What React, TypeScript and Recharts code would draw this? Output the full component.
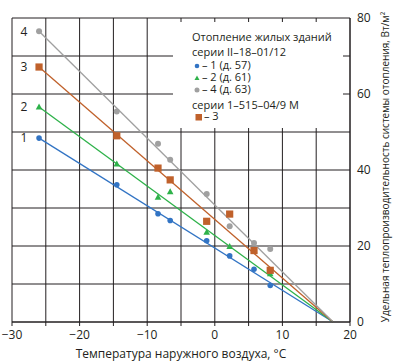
import React from 'react';
import { ComposedChart, Line, Scatter, XAxis, YAxis, CartesianGrid, Label } from 'recharts';

// outside air temperature of the measurements, °C
const temps = [-26, -14.5, -8.4, -6.6, -1.2, 2.2, 5.8, 8.2];

// specific heat output, W/m2
const house1 = [48.4, 36.1, 28.5, 26.7, 21.4, 17.4, 13.9, 9.6];
const house2 = [56.6, 41.6, 32.8, 34.3, 23.6, 19.9, 18.8, 12.7];
const house4 = [76.5, 55.4, 46.9, 42.7, 33.7, 25.2, 20.8, 19.2];
const house3 = [67.1, 49.0, 40.5, 37.4, 26.5, 28.4, 18.8, 13.6];

// design lines: from the coldest point down to zero at the balance temperature
const lineFrom = -26;
const lineTo = 17.5;

const xTicks = [-30, -25, -20, -15, -10, -5, 0, 5, 10, 15, 20];
const yTicks = [0, 10, 20, 30, 40, 50, 60, 70, 80];

const BLUE = '#3274c4';
const GREEN = '#2eb24a';
const GRAY = '#a0a0a0';
const ORANGE = '#c0612b';
const INK = '#231f20';
const FONT = '"Open Sans", sans-serif';

const toPoints = (vals: number[]) => temps.map((t, i) => ({ t, v: vals[i] }));
const fitLine = (vals: number[]) => [
  { t: lineFrom, v: vals[0] },
  { t: lineTo, v: 0 },
];

const fmt = (v: number) => (v < 0 ? '\u2212' + Math.abs(v) : String(v));

const XTick = ({ x, y, payload }: any) =>
  payload.value % 10 !== 0 ? (
    <g />
  ) : (
    <text x={x} y={y} dy="0.71em" textAnchor="middle" fontSize={12} fill={INK} fontFamily={FONT}>
      {fmt(payload.value)}
    </text>
  );

const YTick = ({ x, y, payload }: any) =>
  payload.value % 20 !== 0 ? (
    <g />
  ) : (
    <text x={x} y={y} dy="0.355em" textAnchor="start" fontSize={12} fill={INK} fontFamily={FONT}>
      {payload.value}
    </text>
  );

const lineLabel = (name: string) => (props: any) =>
  props.index !== 0 ? (
    <g />
  ) : (
    <text x={props.x - 15} y={props.y} dy="0.355em" textAnchor="middle" fontSize={12} fill={INK} fontFamily={FONT}>
      {name}
    </text>
  );

const dotShape = (color: string, r: number) => (props: any) =>
  <circle cx={props.cx} cy={props.cy} r={r} fill={color} />;

const triShape = (color: string) => (props: any) => {
  const { cx, cy } = props;
  return <polygon points={`${cx},${cy - 3.5} ${cx + 3.3},${cy + 2.5} ${cx - 3.3},${cy + 2.5}`} fill={color} />;
};

const squareShape = (color: string) => (props: any) =>
  <rect x={props.cx - 3.6} y={props.cy - 3.6} width={7.2} height={7.2} fill={color} />;

const legendRow: React.CSSProperties = { position: 'absolute', whiteSpace: 'nowrap', lineHeight: '12px', height: 12 };

const Marker = ({ children }: { children: React.ReactNode }) => (
  <svg width={8} height={8} style={{ display: 'inline-block', verticalAlign: 'middle', marginRight: 1 }}>
    {children}
  </svg>
);

export default function App() {
  return (
    <div style={{ position: 'absolute', left: 0, top: 0, width: 396, height: 363, background: '#fff' }}>
      <ComposedChart width={396} height={363} margin={{ top: 18, right: 0, left: 12, bottom: 0 }}>
        <CartesianGrid stroke={INK} strokeWidth={1} />
        <XAxis
          type="number"
          dataKey="t"
          domain={[-30, 20]}
          ticks={xTicks}
          interval={0}
          height={41}
          tick={<XTick />}
          tickSize={4}
          tickMargin={4}
          tickLine={{ stroke: INK }}
          axisLine={{ stroke: INK }}
        >
          <Label
            value="Температура наружного воздуха, °С"
            position="insideBottom"
            offset={5}
            fontSize={12}
            fill={INK}
            fontFamily={FONT}
          />
        </XAxis>
        <YAxis
          type="number"
          orientation="right"
          domain={[0, 80]}
          ticks={yTicks}
          interval={0}
          width={46}
          tick={<YTick />}
          tickSize={0}
          tickMargin={7}
          tickLine={false}
          axisLine={{ stroke: INK }}
        >
          <Label
            content={() => (
              <text
                transform="translate(385,167) rotate(-90)"
                textAnchor="middle"
                dominantBaseline="central"
                fontSize={10}
                fill={INK}
                fontFamily={FONT}
              >
                Удельная теплопроизводительность системы отопления, Вт/м²
              </text>
            )}
          />
        </YAxis>

        <Line data={fitLine(house1)} dataKey="v" stroke={BLUE} strokeWidth={1.3} dot={false} isAnimationActive={false} label={lineLabel('1')} />
        <Line data={fitLine(house2)} dataKey="v" stroke={GREEN} strokeWidth={1.3} dot={false} isAnimationActive={false} label={lineLabel('2')} />
        <Line data={fitLine(house3)} dataKey="v" stroke={ORANGE} strokeWidth={1.3} dot={false} isAnimationActive={false} label={lineLabel('3')} />
        <Line data={fitLine(house4)} dataKey="v" stroke={GRAY} strokeWidth={1.3} dot={false} isAnimationActive={false} label={lineLabel('4')} />

        <Scatter data={toPoints(house1)} dataKey="v" shape={dotShape(BLUE, 2.8)} isAnimationActive={false} />
        <Scatter data={toPoints(house2)} dataKey="v" shape={triShape(GREEN)} isAnimationActive={false} />
        <Scatter data={toPoints(house4)} dataKey="v" shape={dotShape(GRAY, 3)} isAnimationActive={false} />
        <Scatter data={toPoints(house3)} dataKey="v" shape={squareShape(ORANGE)} isAnimationActive={false} />
      </ComposedChart>

      <div
        style={{
          position: 'absolute',
          left: 173,
          top: 22,
          width: 170,
          height: 106,
          background: '#fff',
          fontFamily: FONT,
          fontSize: 11,
          color: INK,
        }}
      >
        <div style={{ ...legendRow, left: 19, top: 9 }}>Отопление жилых зданий</div>
        <div style={{ ...legendRow, left: 19, top: 24 }}>серии II–18–01/12</div>
        <div style={{ ...legendRow, left: 20, top: 37 }}>
          <Marker><circle cx={4} cy={4} r={2.3} fill={BLUE} /></Marker>– 1 (д. 57)
        </div>
        <div style={{ ...legendRow, left: 20, top: 49 }}>
          <Marker><polygon points="4,1.5 6.5,6 1.5,6" fill={GREEN} /></Marker>– 2 (д. 61)
        </div>
        <div style={{ ...legendRow, left: 20, top: 61 }}>
          <Marker><circle cx={4} cy={4} r={2.5} fill={GRAY} /></Marker>– 4 (д. 63)
        </div>
        <div style={{ ...legendRow, left: 19, top: 77 }}>серии 1–515–04/9 М</div>
        <div style={{ ...legendRow, left: 22, top: 88 }}>
          <Marker><rect x={0.5} y={1} width={6.5} height={6.5} fill={ORANGE} /></Marker>– 3
        </div>
      </div>
    </div>
  );
}
